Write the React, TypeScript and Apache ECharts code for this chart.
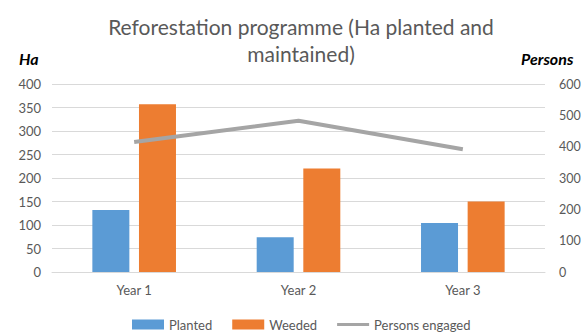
import React, { useEffect, useRef } from "react";
import * as echarts from "echarts";

const categories = ["Year 1", "Year 2", "Year 3"];
const planted = [132, 74, 104];
const weeded = [357, 220, 150];
const personsEngaged = [415, 483, 392];
const leftTicks = { min: 0, max: 400, interval: 50 };
const rightTicks = { min: 0, max: 600, interval: 100 };

const FONT = "Lato, 'Noto Sans', sans-serif";
const GREY = "#595959";
const LINE_ICON = "path://M0,0 L0.01,0 M0,3.5 L32,3.5 L32,6.5 L0,6.5 Z M31.99,10 L32,10";

export default function App() {
  const ref = useRef<HTMLDivElement>(null);
  useEffect(() => {
    if (!ref.current) return;
    const chart = echarts.init(ref.current, null, { renderer: "svg" });
    chart.setOption({
      animation: false,
      backgroundColor: "#ffffff",
      textStyle: { fontFamily: FONT },
      title: {
        text: "Reforestation programme (Ha planted and\nmaintained)",
        left: 296,
        textAlign: "center",
        top: 8,
        textStyle: {
          fontFamily: FONT,
          fontSize: 21,
          fontWeight: "normal",
          color: GREY,
          lineHeight: 27,
        },
      },
      graphic: [
        {
          type: "text",
          left: 19,
          top: 50,
          style: {
            text: "Ha",
            font: `italic bold 16px ${FONT}`,
            fill: "#000000",
          },
        },
        {
          type: "text",
          left: 521,
          top: 50,
          style: {
            text: "Persons",
            font: `italic bold 16px ${FONT}`,
            fill: "#000000",
          },
        },
      ],
      legend: {
        top: 313,
        left: 127,
        itemWidth: 32,
        itemHeight: 10,
        itemGap: 20,
        textStyle: { fontFamily: FONT, fontSize: 13, color: GREY },
        data: [
          { name: "Planted", icon: "rect" },
          { name: "Weeded", icon: "rect" },
          { name: "Persons engaged", icon: LINE_ICON, itemStyle: { color: "#a5a5a5" } },
        ],
      },
      grid: {
        left: 52,
        right: 36,
        top: 84,
        bottom: 61,
        containLabel: false,
        outerBoundsMode: "none",
      },
      xAxis: {
        type: "category",
        data: categories,
        axisTick: { show: false },
        axisLine: { lineStyle: { color: "#d9d9d9", width: 1 } },
        axisLabel: { color: GREY, fontSize: 13, margin: 11, fontFamily: FONT },
      },
      yAxis: [
        {
          type: "value",
          min: leftTicks.min,
          max: leftTicks.max,
          interval: leftTicks.interval,
          axisLine: { show: false },
          axisTick: { show: false },
          splitLine: { lineStyle: { color: "#d9d9d9", width: 1 } },
          axisLabel: { color: GREY, fontSize: 13, margin: 11, fontFamily: FONT },
        },
        {
          type: "value",
          min: rightTicks.min,
          max: rightTicks.max,
          interval: rightTicks.interval,
          position: "right",
          axisLine: { show: false },
          axisTick: { show: false },
          splitLine: { show: false },
          axisLabel: { color: GREY, fontSize: 12.5, margin: 14, fontFamily: FONT },
        },
      ],
      series: [
        {
          name: "Planted",
          type: "bar",
          data: planted,
          barWidth: 37,
          barGap: "26%",
          itemStyle: { color: "#5b9bd5" },
        },
        {
          name: "Weeded",
          type: "bar",
          data: weeded,
          barWidth: 37,
          itemStyle: { color: "#ed7d31" },
        },
        {
          name: "Persons engaged",
          type: "line",
          yAxisIndex: 1,
          data: personsEngaged,
          symbol: "none",
          lineStyle: { color: "#a5a5a5", width: 4 },
          itemStyle: { color: "#a5a5a5" },
        },
      ],
    });
    return () => chart.dispose();
  }, []);
  return (
    <div
      ref={ref}
      style={{ position: "absolute", left: 0, top: 0, width: 581, height: 333 }}
    />
  );
}
